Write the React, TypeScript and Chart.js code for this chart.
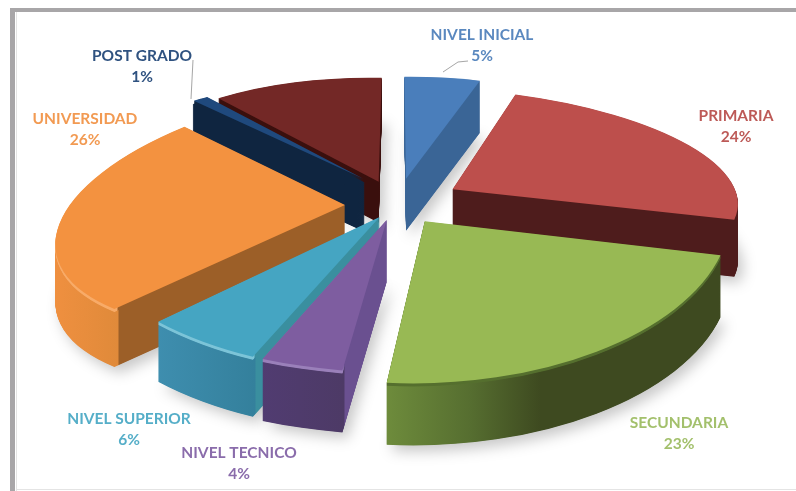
import React, { useEffect, useRef } from "react";
import { Chart, registerables } from "chart.js";

Chart.register(...registerables);

// ---- data (clockwise from 12 o'clock) ----
const categories = ["NIVEL INICIAL", "PRIMARIA", "SECUNDARIA", "NIVEL TECNICO", "NIVEL SUPERIOR", "UNIVERSIDAD", "POST GRADO", ""];
const percentValues = [5, 24, 23, 4, 6, 26, 1, 11];

// ---- styles ----
const topColors = ["#4a7ebb", "#bd4f4c", "#98b954", "#7e5da0", "#45a5c2", "#f39240", "#1f497d", "#732826"];
const labelColors = ["#5a88bf", "#bd5a57", "#a3c06c", "#8a6cab", "#55aec8", "#f29a52", "#2f5280", "#732826"];
const rimColors = ["", "", "#556f2e", "#9a80ba", "#7cc4d8", "#f8ab68", "", ""];
const rimEnd = [0, 0, 730, 343, 254, 117, 0, 0];
const wallStops: [number, string][][] = [
  [[380, "#3a6596"], [490, "#3a6596"]],
  [[440, "#4e1c1c"], [750, "#4e1c1c"]],
  [[385, "#6e8c3c"], [470, "#566e30"], [540, "#3e4a20"], [730, "#3e4a20"]],
  [[255, "#513c72"], [344, "#4d3a66"], [345, "#6a5090"], [400, "#6a5090"]],
  [[150, "#3f8fb0"], [255, "#34809c"], [256, "#3a8f9f"], [400, "#3a8f9f"]],
  [[50, "#f09040"], [118, "#e08a3a"], [119, "#9c5f28"], [360, "#9c5f28"]],
  [[180, "#0f2540"], [370, "#0f2540"]],
  [[210, "#3a0f0d"], [390, "#3a0f0d"]],
];
const wallBorder = [0, 0, 0, 0, 0, 0, 2, 0];
const drawOrder = [7, 6, 5, 0, 1, 4, 3, 2];

// ---- pie plane projection ----
const radius = 290;
const viewX = 396;
const viewY = 205;
const tilt = 0.44;
const perspective = 0.0007;
const shiftX = [10.5, 58, 28, -9, -16, -51, -34, -18];
const shiftY = [-62, -37, 36, 33, 27, 0, -62, -55];
const radiusScale = [1.05, 0.97, 0.97, 0.92, 0.93, 0.96, 1.05, 1.06];
const wallDepth = [52, 57, 62, 62, 60, 58, 52, 41];

// ---- label placement ----
const labelX = [482, 736, 679, 239, 129, 85, 142, 0];
const labelY = [35, 116, 423, 453, 419, 119, 56, 0];
const leaderLines: [number, number][][] = [
  [[443, 72], [458, 62], [468, 61]],
  [[193, 60], [191, 99]],
];

function project(x: number, y: number): [number, number] {
  const w = 1 - perspective * y;
  return [viewX + x / w, viewY + (tilt * y) / w];
}

function sliceMatrix(i: number, start: number, end: number) {
  const p1: [number, number] = [radius * Math.cos(start), radius * Math.sin(start)];
  const p2: [number, number] = [radius * Math.cos(end), radius * Math.sin(end)];
  const k = radiusScale[i];
  const a0 = project(shiftX[i], shiftY[i]);
  const a1 = project(shiftX[i] + k * p1[0], shiftY[i] + k * p1[1]);
  const a2 = project(shiftX[i] + k * p2[0], shiftY[i] + k * p2[1]);
  const s1 = [a1[0] - a0[0], a1[1] - a0[1]];
  const s2 = [a2[0] - a0[0], a2[1] - a0[1]];
  const det = p1[0] * p2[1] - p2[0] * p1[1];
  const a = (s1[0] * p2[1] - s2[0] * p1[1]) / det;
  const c = (-s1[0] * p2[0] + s2[0] * p1[0]) / det;
  const b = (s1[1] * p2[1] - s2[1] * p1[1]) / det;
  const d = (-s1[1] * p2[0] + s2[1] * p1[0]) / det;
  return { a, b, c, d, ex: a0[0], ey: a0[1] };
}

const pie3d = {
  id: "pie3d",
  beforeDraw(chart: any) {
    const ctx = chart.ctx;
    ctx.save();
    ctx.fillStyle = "#ffffff";
    ctx.fillRect(0, 0, 796, 491);
    ctx.fillStyle = "#a8a6a8";
    ctx.fillRect(10, 8, 786, 4);
    ctx.fillRect(10, 8, 5, 483);
    ctx.fillStyle = "#e4e4e4";
    ctx.fillRect(16, 12, 1, 479);
    ctx.fillRect(16, 489, 780, 1);
    ctx.restore();
  },
  beforeDatasetsDraw(chart: any) {
    const ctx: CanvasRenderingContext2D = chart.ctx;
    const arcs = chart.getDatasetMeta(0).data;
    for (const i of drawOrder) {
      const arc = arcs[i];
      const m = sliceMatrix(i, arc.startAngle, arc.endAngle);
      const paint = (dy: number, fill: any, shadow: boolean, border = 0) => {
        const clone = Object.create(arc);
        clone.options = {
          backgroundColor: fill, borderColor: border ? fill : "transparent", borderWidth: border, offset: 0, spacing: 0,
          borderAlign: "center", circular: true, borderRadius: 0, borderJoinStyle: "round", borderDash: [], borderDashOffset: 0,
        };
        ctx.save();
        if (shadow) {
          ctx.shadowColor = "rgba(0,0,0,0.22)";
          ctx.shadowBlur = 14;
          ctx.shadowOffsetX = 5;
          ctx.shadowOffsetY = 6;
        }
        ctx.transform(m.a, m.b, m.c, m.d, m.ex - m.a * arc.x - m.c * arc.y, m.ey + dy - m.b * arc.x - m.d * arc.y);
        clone.draw(ctx);
        ctx.restore();
      };
      // gradients run along screen x: build them in the slice's local space
      const n2 = m.a * m.a + m.c * m.c;
      const loc = (sx: number) => {
        const t = (sx - m.ex) / n2;
        return [arc.x + m.a * t, arc.y + m.c * t];
      };
      const gradient = (stops: [number, string][]) => {
        const x0 = stops[0][0];
        const x1 = stops[stops.length - 1][0];
        const [gx0, gy0] = loc(x0);
        const [gx1, gy1] = loc(x1);
        const g = ctx.createLinearGradient(gx0, gy0, gx1, gy1);
        stops.forEach(([x, col]) => g.addColorStop((x - x0) / (x1 - x0), col));
        return g;
      };
      const stops = wallStops[i];
      const grad = gradient(stops);
      const first = stops[0][0];
      const last = stops[stops.length - 1];
      const rim = rimEnd[i]
        ? gradient([[first, rimColors[i]], [rimEnd[i], rimColors[i]], [rimEnd[i] + 1, last[1]], [last[0] + 1, last[1]]])
        : grad;
      const depth = wallDepth[i];
      paint(depth, grad, true, wallBorder[i]);
      for (let d = depth - 0.5; d > 3; d -= 0.5) paint(d, grad, false, wallBorder[i]);
      for (let d = 3; d > 0; d -= 0.5) paint(d, rim, false);
      paint(0, topColors[i], false);
    }
    return false;
  },
  afterDraw(chart: any) {
    const ctx: CanvasRenderingContext2D = chart.ctx;
    ctx.save();
    ctx.strokeStyle = "#a6a6a6";
    ctx.lineWidth = 1;
    for (const line of leaderLines) {
      ctx.beginPath();
      line.forEach(([x, y], k) => (k ? ctx.lineTo(x, y) : ctx.moveTo(x, y)));
      ctx.stroke();
    }
    ctx.font = "bold 15.5px Lato";
    ctx.textAlign = "center";
    ctx.textBaseline = "middle";
    categories.forEach((name, i) => {
      if (!name) return;
      ctx.fillStyle = labelColors[i];
      ctx.fillText(name, labelX[i], labelY[i]);
      ctx.fillText(percentValues[i] + "%", labelX[i], labelY[i] + 21);
    });
    ctx.restore();
  },
};

export default function App() {
  const ref = useRef<HTMLCanvasElement>(null);
  useEffect(() => {
    const chart = new Chart(ref.current!, {
      type: "pie",
      data: {
        labels: categories,
        datasets: [{ data: percentValues, backgroundColor: topColors, borderWidth: 0 }],
      },
      options: {
        responsive: false,
        animation: false,
        radius,
        plugins: { legend: { display: false }, tooltip: { enabled: false } },
      } as any,
      plugins: [pie3d as any],
    });
    return () => chart.destroy();
  }, []);
  return <canvas ref={ref} width={796} height={491} style={{ position: "absolute", left: 0, top: 0, display: "block" }} />;
}
